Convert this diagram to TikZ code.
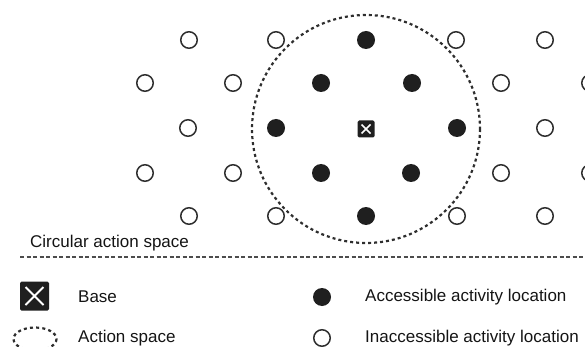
\documentclass[tikz,border=0pt]{standalone}
\usepackage{fontspec}
\setmainfont{Liberation Sans}
\begin{document}
\begin{tikzpicture}[x=1pt,y=-1pt,
  every node/.style={font=\fontsize{17}{19}\selectfont, text=black!92},
  openloc/.style={circle, draw=black!82, line width=1.5pt, fill=white, minimum size=16.5pt, inner sep=0pt},
  fullloc/.style={circle, fill=black!88, draw=none, minimum size=18pt, inner sep=0pt},
  basebox/.style={rectangle, rounded corners=1.5pt, fill=black!88, draw=none, minimum size=#1, inner sep=0pt},
  spaceline/.style={line width=2.2pt, dash pattern=on 3pt off 3pt, draw=black!82},
  divider/.style={line width=1.1pt, dash pattern=on 4pt off 2.5pt, draw=black!70},
  label/.style={anchor=west, inner sep=0pt}]
\useasboundingbox (0,0) rectangle (585,347);
\clip (0,0) rectangle (585,347);

% circular action space around the base
\node (base) [basebox=17pt] at (366,129) {};
\draw[white, line width=1.6pt] ([shift={(-4.5,-4.5)}]base.center) -- ([shift={(4.5,4.5)}]base.center)
  ([shift={(-4.5,4.5)}]base.center) -- ([shift={(4.5,-4.5)}]base.center);
\draw[spaceline] (base.center) circle[radius=114];

% activity locations, row by row
\foreach \name/\x/\y/\kind in {
  a1/189/40/openloc, a2/276/40/openloc, a3/366/40/fullloc, a4/456/40/openloc, a5/545/40/openloc,
  b1/145/83/openloc, b2/233/83/openloc, b3/321/83/fullloc, b4/412/83/fullloc, b5/501/83/openloc, b6/590/83/openloc,
  c1/188/128/openloc, c2/276/128/fullloc, c3/457/128/fullloc, c4/545/128/openloc,
  d1/145/173/openloc, d2/233/173/openloc, d3/321/173/fullloc, d4/411/173/fullloc, d5/501/173/openloc, d6/590/173/openloc,
  e1/189/216/openloc, e2/276/216/openloc, e3/366/216/fullloc, e4/457/216/openloc, e5/545/216/openloc}
  \node (\name) [\kind] at (\x,\y) {};

% caption and divider
\node (title) [label] at (30,243) {Circular action space};
\coordinate (divL) at (20,257);
\coordinate (divR) at (585,257);
\draw[divider] (divL) -- (divR);

% legend
\node (lbase) [basebox=29pt] at (34.5,296) {};
\draw[white, line width=2pt] ([shift={(-9,-9)}]lbase.center) -- ([shift={(9,9)}]lbase.center)
  ([shift={(-9,9)}]lbase.center) -- ([shift={(9,-9)}]lbase.center);
\node (tbase) [label] at (78,297) {Base};

\draw[line width=2.2pt, dash pattern=on 3pt off 3.2pt, draw=black!82] (35,339) ellipse[x radius=21.5, y radius=11.5];
\node (tspace) [label] at (78,338) {Action space};

\node (lfull) [fullloc] at (322,297) {};
\node (tfull) [label] at (365,297) {Accessible activity location};

\node (lopen) [openloc] at (322,338) {};
\node (topen) [label] at (365,338) {Inaccessible activity location};
\end{tikzpicture}
\end{document}
